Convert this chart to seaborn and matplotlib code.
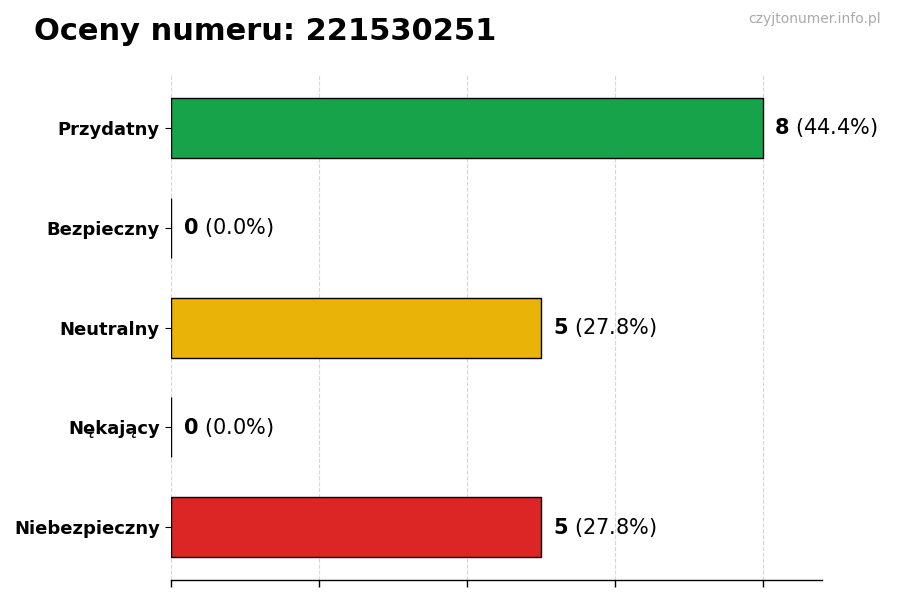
import matplotlib
matplotlib.use("Agg")
import matplotlib.pyplot as plt
import seaborn as sns
import pandas as pd

categories = ["Przydatny", "Bezpieczny", "Neutralny", "Nękający", "Niebezpieczny"]
counts = [8, 0, 5, 0, 5]
colors = ["#16a34a", "#9ca3af", "#eab308", "#f97316", "#dc2626"]
title = "Oceny numeru: 221530251"
watermark = "czyjtonumer.info.pl"

total = sum(counts)
df = pd.DataFrame({"kategoria": categories, "liczba": counts})

sns.set_style("white")
plt.rcParams["font.family"] = ["DejaVu Sans"]
plt.rcParams["mathtext.fontset"] = "dejavusans"
plt.rcParams["text.color"] = "black"
plt.rcParams["xtick.color"] = "black"
plt.rcParams["ytick.color"] = "black"
plt.rcParams["axes.labelcolor"] = "black"

fig, ax = plt.subplots(figsize=(9, 6), dpi=100)
fig.subplots_adjust(left=0.19, right=0.913, top=0.875, bottom=0.033)

sns.barplot(data=df, x="liczba", y="kategoria", hue="kategoria", palette=colors,
            order=categories, orient="h", width=0.6, edgecolor="black",
            linewidth=1, legend=False, ax=ax, saturation=1)

ax.set_xlim(0, max(counts) * 1.1)
ax.set_ylim(len(categories) - 1 + 0.53, -0.53)
ax.set_xticks([0, 2, 4, 6, 8])
ax.set_xticklabels([])
ax.tick_params(axis="x", length=5, width=1, bottom=True, colors="black")
ax.tick_params(axis="y", length=4, width=0.8, left=True, labelsize=13, pad=4,
               colors="black")
for lbl in ax.get_yticklabels():
    lbl.set_fontweight("bold")
ax.set_xlabel("")
ax.set_ylabel("")
ax.grid(axis="x", linestyle="--", color="#cccccc", linewidth=0.8, alpha=0.8)
ax.set_axisbelow(True)
for s in ["top", "right", "left"]:
    ax.spines[s].set_visible(False)
ax.spines["bottom"].set_color("black")
ax.spines["bottom"].set_linewidth(1)

for i, v in enumerate(counts):
    pct = v / total * 100
    ax.text(v + 0.16, i, r"$\bf{%d}$ (%.1f%%)" % (v, pct), va="center", ha="left",
            fontsize=15, color="black")

fig.text(0.038, 0.948, title, fontsize=22, fontweight="bold", ha="left", va="center",
         color="black")
fig.text(0.979, 0.969, watermark, fontsize=10, color="#aaaaaa", ha="right", va="center")

fig.savefig("out.png", dpi=100)
